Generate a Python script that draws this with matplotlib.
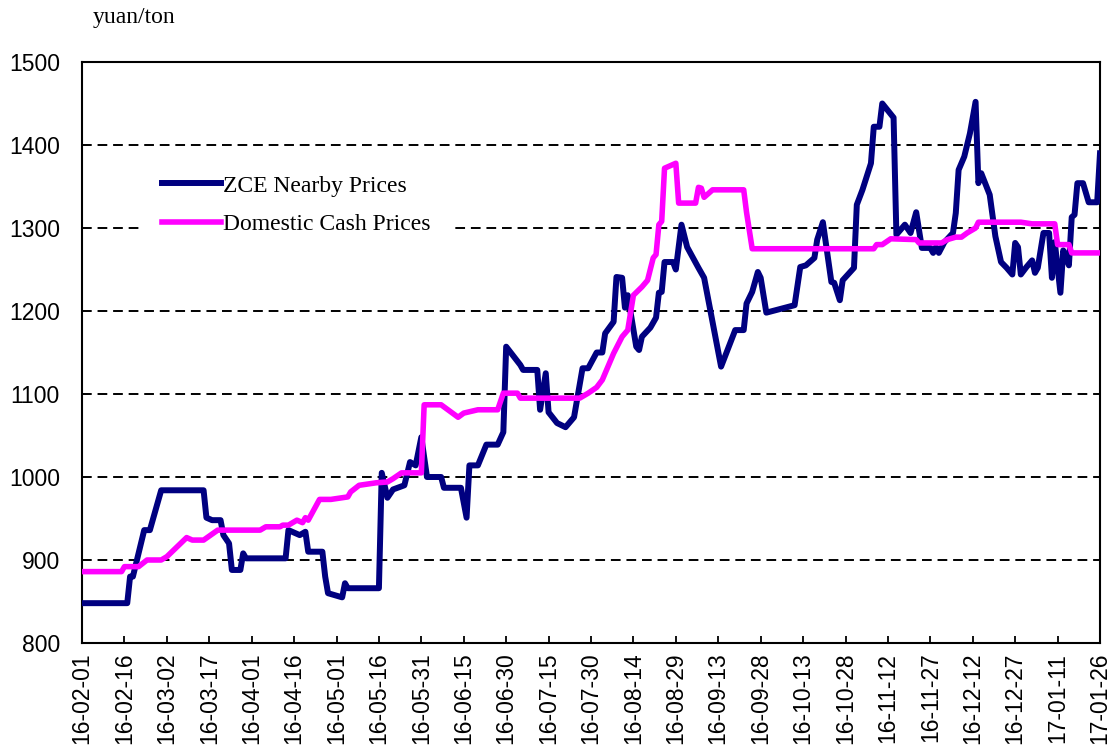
import numpy as np
import pandas as pd
import matplotlib
matplotlib.use('Agg')
from matplotlib import pyplot as plt
import matplotlib.dates as mdates

# ZCE nearby futures prices (yuan/ton)
zce_dates = ['2016-02-01', '2016-02-17', '2016-02-18', '2016-02-19', '2016-02-21', '2016-02-23',
             '2016-02-25', '2016-02-29', '2016-03-15', '2016-03-16', '2016-03-18', '2016-03-21',
             '2016-03-22', '2016-03-24', '2016-03-25', '2016-03-28', '2016-03-29', '2016-03-30',
             '2016-04-13', '2016-04-14', '2016-04-18', '2016-04-20', '2016-04-21', '2016-04-26',
             '2016-04-27', '2016-04-28', '2016-05-03', '2016-05-04', '2016-05-05', '2016-05-16',
             '2016-05-17', '2016-05-19', '2016-05-21', '2016-05-25', '2016-05-27', '2016-05-29',
             '2016-05-31', '2016-06-02', '2016-06-07', '2016-06-08', '2016-06-14', '2016-06-16',
             '2016-06-17', '2016-06-20', '2016-06-23', '2016-06-27', '2016-06-29', '2016-06-30',
             '2016-07-05', '2016-07-06', '2016-07-11', '2016-07-12', '2016-07-14', '2016-07-15',
             '2016-07-18', '2016-07-21', '2016-07-24', '2016-07-27', '2016-07-29', '2016-08-01',
             '2016-08-03', '2016-08-04', '2016-08-07', '2016-08-08', '2016-08-10', '2016-08-11',
             '2016-08-12', '2016-08-15', '2016-08-16', '2016-08-17', '2016-08-20', '2016-08-22',
             '2016-08-23', '2016-08-24', '2016-08-25', '2016-08-28', '2016-08-29', '2016-08-31',
             '2016-09-02', '2016-09-06', '2016-09-08', '2016-09-14', '2016-09-19', '2016-09-22',
             '2016-09-23', '2016-09-25', '2016-09-27', '2016-09-28', '2016-09-30', '2016-10-10',
             '2016-10-12', '2016-10-14', '2016-10-17', '2016-10-18', '2016-10-20', '2016-10-23',
             '2016-10-24', '2016-10-26', '2016-10-27', '2016-10-31', '2016-11-01', '2016-11-03',
             '2016-11-06', '2016-11-07', '2016-11-09', '2016-11-10', '2016-11-14', '2016-11-15',
             '2016-11-18', '2016-11-20', '2016-11-22', '2016-11-24', '2016-11-27', '2016-11-28',
             '2016-11-29', '2016-11-30', '2016-12-02', '2016-12-05', '2016-12-06', '2016-12-07',
             '2016-12-09', '2016-12-11', '2016-12-13', '2016-12-14', '2016-12-15', '2016-12-18',
             '2016-12-20', '2016-12-22', '2016-12-24', '2016-12-26', '2016-12-27', '2016-12-28',
             '2016-12-29', '2016-12-31', '2017-01-02', '2017-01-03', '2017-01-04', '2017-01-06',
             '2017-01-08', '2017-01-09', '2017-01-10', '2017-01-12', '2017-01-13', '2017-01-14',
             '2017-01-15', '2017-01-16', '2017-01-17', '2017-01-18', '2017-01-20', '2017-01-22',
             '2017-01-25', '2017-01-26']
zce_prices = [848, 848, 880, 880, 908, 936,
              936, 984, 984, 951, 948, 948,
              930, 920, 888, 888, 908, 902,
              902, 936, 930, 934, 910, 910,
              880, 860, 855, 872, 866, 866,
              1005, 975, 985, 990, 1018, 1014,
              1048, 1000, 1000, 987, 987, 951,
              1014, 1014, 1039, 1039, 1054, 1157,
              1135, 1129, 1129, 1081, 1125, 1078,
              1065, 1060, 1072, 1131, 1131, 1150,
              1150, 1173, 1187, 1241, 1240, 1204,
              1219, 1157, 1153, 1169, 1180, 1192,
              1222, 1223, 1259, 1259, 1250, 1304,
              1277, 1252, 1240, 1133, 1177, 1177,
              1209, 1223, 1247, 1240, 1198, 1207,
              1253, 1255, 1264, 1286, 1307, 1235,
              1234, 1213, 1237, 1252, 1328, 1346,
              1378, 1422, 1422, 1450, 1433, 1292,
              1304, 1294, 1319, 1276, 1276, 1270,
              1277, 1270, 1283, 1294, 1318, 1370,
              1386, 1414, 1452, 1354, 1366, 1340,
              1290, 1259, 1252, 1244, 1282, 1277,
              1244, 1253, 1261, 1246, 1252, 1294,
              1294, 1240, 1283, 1222, 1273, 1265,
              1255, 1313, 1316, 1354, 1354, 1331,
              1331, 1390]

# domestic cash prices (yuan/ton)
cash_dates = ['2016-02-01', '2016-02-15', '2016-02-16', '2016-02-21', '2016-02-24', '2016-02-29',
              '2016-03-02', '2016-03-09', '2016-03-11', '2016-03-15', '2016-03-20', '2016-04-04',
              '2016-04-06', '2016-04-11', '2016-04-12', '2016-04-14', '2016-04-17', '2016-04-19',
              '2016-04-20', '2016-04-21', '2016-04-25', '2016-04-29', '2016-05-05', '2016-05-06',
              '2016-05-09', '2016-05-15', '2016-05-19', '2016-05-21', '2016-05-24', '2016-05-31',
              '2016-06-01', '2016-06-07', '2016-06-13', '2016-06-15', '2016-06-20', '2016-06-27',
              '2016-06-29', '2016-07-04', '2016-07-05', '2016-07-26', '2016-07-29', '2016-08-01',
              '2016-08-03', '2016-08-07', '2016-08-10', '2016-08-12', '2016-08-14', '2016-08-17',
              '2016-08-19', '2016-08-21', '2016-08-22', '2016-08-23', '2016-08-24', '2016-08-25',
              '2016-08-29', '2016-08-30', '2016-09-05', '2016-09-06', '2016-09-07', '2016-09-08',
              '2016-09-11', '2016-09-22', '2016-09-23', '2016-09-25', '2016-11-07', '2016-11-08',
              '2016-11-10', '2016-11-13', '2016-11-22', '2016-11-23', '2016-12-01', '2016-12-03',
              '2016-12-06', '2016-12-08', '2016-12-10', '2016-12-13', '2016-12-14', '2016-12-29',
              '2017-01-02', '2017-01-10', '2017-01-11', '2017-01-15', '2017-01-16', '2017-01-26']
cash_prices = [886, 886, 892, 892, 900, 900,
               904, 927, 924, 924, 936, 936,
               940, 940, 942, 942, 948, 945,
               951, 948, 973, 973, 976, 982,
               990, 993, 994, 998, 1005, 1005,
               1087, 1087, 1072, 1077, 1081, 1081,
               1101, 1101, 1095, 1095, 1101, 1108,
               1117, 1149, 1169, 1177, 1219, 1229,
               1237, 1264, 1268, 1304, 1308, 1372,
               1378, 1330, 1330, 1349, 1348, 1337,
               1346, 1346, 1319, 1275, 1275, 1280,
               1280, 1287, 1286, 1282, 1282, 1286,
               1289, 1289, 1294, 1300, 1307, 1307,
               1305, 1305, 1280, 1280, 1270, 1270]

tick_dates = pd.date_range('2016-02-01', '2017-01-26', freq='15D')

fig = plt.figure(figsize=(11.18, 7.49), dpi=100)
ax = fig.add_axes([82 / 1118, 1 - 643 / 749, 1018 / 1118, 581 / 749])

ax.plot(pd.to_datetime(zce_dates), zce_prices, color='#000080', lw=4.3,
        solid_joinstyle='round', label='ZCE Nearby Prices', zorder=3)
ax.plot(pd.to_datetime(cash_dates), cash_prices, color='#FF00FF', lw=4.0,
        solid_joinstyle='round', label='Domestic Cash Prices', zorder=4)

ax.set_xlim(tick_dates[0], tick_dates[-1])
ax.set_ylim(800, 1500)
ax.set_yticks(range(800, 1501, 100))
ax.set_xticks(tick_dates)
ax.xaxis.set_major_formatter(mdates.DateFormatter('%y-%m-%d'))

# dashed grid only inside
for v in range(900, 1500, 100):
    ax.axhline(v, color='black', lw=1.4, ls=(0, (5, 3)), zorder=1)

for lab in ax.get_xticklabels():
    lab.set_rotation(90)
    lab.set_fontfamily('Liberation Sans')
    lab.set_fontsize(16.5)
for lab in ax.get_yticklabels():
    lab.set_fontfamily('Liberation Sans')
    lab.set_fontsize(16.5)

ax.tick_params(axis='x', direction='in', length=5, width=1.3, pad=7)
ax.tick_params(axis='y', length=0, pad=16)
for s in ax.spines.values():
    s.set_linewidth(1.5)

leg = ax.legend(loc='upper left', bbox_to_anchor=(0.06, 0.838), borderaxespad=0,
                prop={'family': 'Liberation Serif', 'size': 17},
                frameon=True, facecolor='white', edgecolor='none', framealpha=1,
                fancybox=False, handlelength=2.5, handletextpad=0.1,
                labelspacing=0.72, borderpad=0.8)
leg.set_zorder(5)

fig.text(93 / 1118, 1 - 17 / 749, 'yuan/ton', fontfamily='Liberation Serif',
         fontsize=17, va='center', ha='left')

plt.savefig('out.png', dpi=100)
